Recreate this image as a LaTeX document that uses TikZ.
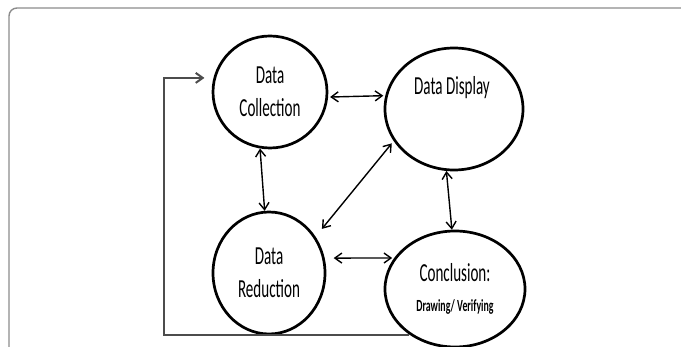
\documentclass[tikz,border=0pt]{standalone}
\usepackage{fontspec}
\usetikzlibrary{shapes.geometric,arrows.meta}
\newfontfamily\diagfont[FakeStretch=0.58]{Carlito}

\tikzset{
    stage/.style={ellipse, draw, line width=2.7pt, inner sep=0pt, align=center,
        font=\diagfont\fontsize{26}{33}\selectfont},
    link/.style={<->, line width=1.4pt},
}

\begin{document}
\begin{tikzpicture}[x=1pt, y=-1pt, >={Straight Barb[length=7pt,width=10pt]}]
        \useasboundingbox (0,0) rectangle (681,347);
        % frame round the figure
        \draw[black!45, line width=1.4pt, rounded corners=8pt] (681,8) -- (9,8) -- (9,347);

        \node[stage, minimum width=114pt, minimum height=112pt] (coll) at (270,92) {Data\\Collection};
        \node[stage, minimum width=138pt, minimum height=122pt] (disp) at (454,109) {};
        \node[font=\diagfont\fontsize{26}{33}\selectfont] (displabel) at (452,88) {Data Display};
        \node[stage, minimum width=112pt, minimum height=122pt] (red) at (269,273) {Data\\Reduction};
        \node[stage, minimum width=140pt, minimum height=116pt] (concl) at (455,289)
            {Conclusion:\\[-3pt]{\bfseries\fontsize{17}{20}\selectfont Drawing/ Verifying}};

        \draw[link, shorten <=2pt, shorten >=2pt] (coll.-5) -- (disp.169);
        \draw[link] (coll.-100) -- (red.94);
        \draw[link, shorten <=3pt, shorten >=10pt] (disp.208) -- (red.38);
        \draw[link] (disp.-97) -- (concl.93);
        \draw[link, shorten <=9pt, shorten >=2pt] (red.15) -- (concl.153);

        % feedback loop back to the start
        \draw[->, black!70, line width=2pt, shorten >=9pt] (concl.225) -- ++(-245,0) |- (coll.166);
    \end{tikzpicture}
\end{document}
